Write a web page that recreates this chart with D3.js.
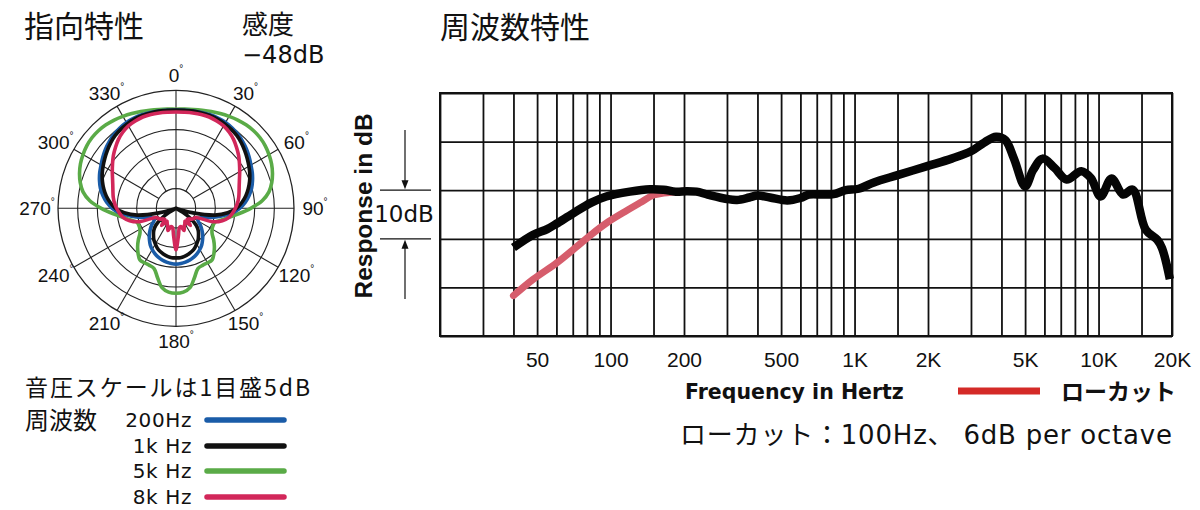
<!DOCTYPE html>
<html><head><meta charset="utf-8">
<script src="https://cdn.jsdelivr.net/npm/d3@7"></script>
<style>
body{margin:0;background:#fff;}
svg text{font-family:"Liberation Sans","Noto Sans CJK JP",sans-serif;fill:#111;}
svg text.jp{font-family:"Noto Sans CJK JP",sans-serif;}
svg text.dv{font-family:"DejaVu Sans","Noto Sans CJK JP",sans-serif;}
</style></head><body>
<svg id="c" width="1200" height="510"></svg>
<script>
// ---------- polar data (dB, 1 ring = 5 dB) ----------
const polarAngles = [0,5,10,15,20,25,30,35,40,45,50,55,60,65,70,75,80,85,90,95,100,105,110,115,120,125,130,135,140,145,150,155,160,165,170,175,180,
  185,190,195,200,205,210,215,220,225,230,235,240,245,250,255,260,265,270,275,280,285,290,295,300,305,310,315,320,325,330,335,340,345,350,355];
const polar200Hz = [0,0,0.1,0.2,0.3,0.3,0.2,-0.1,-0.5,-1.0,-1.6,-2.3,-3.0,-3.6,-4.3,-5.1,-6.1,-7.3,-8.8,-10.8,-13.5,-16,-18,-18.8,-18.5,-17.4,-16.4,-15.4,-14.5,-13.6,-12.9,-12.3,-11.8,-11.4,-11.1,-10.9,-10.8,
  -10.9,-11.1,-11.4,-11.8,-12.3,-12.9,-13.6,-14.5,-15.4,-16.4,-17.4,-18.5,-18.8,-18,-16,-13.5,-10.8,-8.8,-7.3,-6.1,-5.1,-4.3,-3.6,-3.0,-2.3,-1.6,-1.0,-0.5,-0.1,0.2,0.3,0.3,0.2,0.1,0];
const polar1kHz = [0,0,0.1,0.1,0.1,0,-0.2,-0.5,-0.9,-1.5,-2.2,-2.9,-3.6,-4.3,-5.1,-6.0,-7.0,-8.2,-9.6,-11.8,-15,-20.5,-24.5,-25,-23,-20.5,-18.3,-17,-16.1,-15.2,-14.5,-13.8,-13.3,-12.9,-12.6,-12.4,-12.4,
  -12.4,-12.6,-12.9,-13.3,-13.8,-14.5,-15.2,-16.1,-17,-18.3,-20.5,-23,-25,-24.5,-20.5,-15,-11.8,-9.6,-8.2,-7.0,-6.0,-5.1,-4.3,-3.6,-2.9,-2.2,-1.5,-0.9,-0.5,-0.2,0,0.1,0.1,0.1,0];
const polar5kHz = [0.2,0.3,0.5,0.8,1.2,1.6,2.0,2.4,2.7,2.9,2.9,2.7,2.3,1.8,1.1,0.2,-1.0,-3.0,-6.0,-9.0,-11.5,-13.2,-14.5,-14.6,-14.4,-13.8,-12.5,-11.2,-10.0,-9.0,-9.0,-9.0,-8.7,-6.8,-4.5,-3.6,-3.4,
  -3.6,-4.5,-6.8,-8.7,-9.0,-9.0,-9.0,-10.0,-11.2,-12.5,-13.8,-14.4,-14.6,-14.5,-13.2,-11.5,-9.0,-6.0,-3.0,-1.0,0.2,1.1,1.8,2.3,2.7,2.9,2.9,2.7,2.4,2.0,1.6,1.2,0.8,0.5,0.3];
const polar8kHz = [-0.5,-0.5,-0.4,-0.3,-0.3,-0.5,-0.8,-1.4,-2.2,-3.2,-4.2,-5.3,-6.3,-7.2,-7.9,-8.4,-8.8,-9.3,-9.9,-10.6,-11.4,-12.8,-15,-19.5,-19.8,-20.2,-20.8,-21,-19.3,-21,-20.5,-20,-19,-20.2,-20,-18,-14.4,
  -18,-20,-20.2,-19,-20,-20.5,-21,-19.3,-21,-20.8,-20.2,-19.8,-19.5,-15,-12.8,-11.4,-10.6,-9.9,-9.3,-8.8,-8.4,-7.9,-7.2,-6.3,-5.3,-4.2,-3.2,-2.2,-1.4,-0.8,-0.5,-0.3,-0.3,-0.4,-0.5];
const polarSeriesNames = ["5k Hz","200Hz","1k Hz","8k Hz"];
const polarRings = [-20,-15,-10,-5,0,5];
const polarSpokes = [0,30,60,90,120,150,180,210,240,270,300,330];

// ---------- frequency response data ----------
const respFreq = [40,48,55,60,70,83,96,120,145,165,185,205,225,250,300,330,370,400,450,530,600,650,750,820,920,1040,1200,1500,2000,2500,3000,3400,3800,4150,4500,5000,5400,5900,6600,7400,8500,9300,10200,11300,12600,13800,15600,17400,18200,19600];
const respDb   = [-11.8,-9.2,-8.0,-6.9,-4.8,-2.6,-1.3,-0.3,0.2,0.1,-0.3,-0.2,-0.3,-0.9,-1.8,-2.0,-1.5,-1.1,-1.5,-2.1,-1.6,-0.9,-0.9,-0.8,0.0,0.3,1.6,3.1,5.0,6.5,8.0,9.8,11.0,10.3,6.5,0.8,4.2,6.5,4.6,2.2,3.9,2.5,-1.3,2.4,-0.9,0.1,-8.1,-10.2,-11.9,-18.3];
const lowcutFreq = [40,48,60,70,83,96,112,132,150,165,200];
const lowcutDb   = [-21.7,-18.4,-15.0,-12.3,-9.2,-6.8,-4.7,-2.6,-1.0,-0.6,-0.2];
const freqGrid = [20,30,40,50,60,70,80,90,100,150,200,300,400,500,600,700,800,900,1000,1500,2000,3000,4000,5000,6000,7000,8000,9000,10000,15000,20000];
const freqTickValues = [50,100,200,500,1000,2000,5000,10000,20000];
const freqTickLabels = ["50","100","200","500","1K","2K","5K","10K","20K"];
const dbGrid = [-30,-20,-10,0,10,20];

const svg = d3.select("#c");

// ---------- titles ----------
svg.append("text").attr("class","jp").attr("x",24).attr("y",37).attr("font-size",30).text("指向特性");
svg.append("text").attr("class","jp").attr("x",242).attr("y",34).attr("font-size",26).text("感度");
svg.append("text").attr("class","dv").attr("x",242).attr("y",63).attr("font-size",24).text("−48dB");
svg.append("text").attr("class","jp").attr("x",440).attr("y",38).attr("font-size",30).text("周波数特性");

// ---------- polar chart ----------
const cx = 176, cy = 208.3;
const r = d3.scaleLinear().domain([-25,5]).range([0,118]).clamp(true);
const pg = svg.append("g").attr("transform",`translate(${cx},${cy})`);
pg.selectAll("circle.ring").data(polarRings).join("circle")
  .attr("r",d=>r(d)).attr("fill","none").attr("stroke","#222").attr("stroke-width",d=>d===5?1.3:1.1);
pg.selectAll("line.spoke").data(polarSpokes).join("line")
  .attr("x1",d=>(d%90===0?0:r(-20))*Math.sin(d*Math.PI/180))
  .attr("y1",d=>-(d%90===0?0:r(-20))*Math.cos(d*Math.PI/180))
  .attr("x2",d=>r(5)*Math.sin(d*Math.PI/180))
  .attr("y2",d=>-r(5)*Math.cos(d*Math.PI/180))
  .attr("stroke","#222").attr("stroke-width",1.1);
const lbl = pg.selectAll("text.deg").data(polarSpokes).join("text")
  .attr("x",d=>139*Math.sin(d*Math.PI/180))
  .attr("y",d=>-133*Math.cos(d*Math.PI/180))
  .attr("text-anchor","middle").attr("dominant-baseline","central").attr("font-size",19);
lbl.append("tspan").text(d=>String(d));
lbl.append("tspan").attr("font-size",10).attr("dy",-7).text("°");

const polarColors = {"200Hz":"#1a5ca8","1k Hz":"#111111","5k Hz":"#5aab47","8k Hz":"#d2275a"};
const polarData = {"200Hz":polar200Hz,"1k Hz":polar1kHz,"5k Hz":polar5kHz,"8k Hz":polar8kHz};
const radial = d3.lineRadial().angle(d=>d[0]*Math.PI/180).radius(d=>r(d[1])).curve(d3.curveCatmullRomClosed.alpha(0.5));
polarSeriesNames.forEach(name=>{
  const pts = polarAngles.map((a,i)=>[a,polarData[name][i]]);
  pg.append("path").attr("d",radial(pts)).attr("fill","none")
    .attr("stroke",polarColors[name]).attr("stroke-width",3.6).attr("stroke-linejoin","round");
});

// polar legend
svg.append("text").attr("class","jp").attr("x",25).attr("y",396).attr("font-size",23)
  .attr("textLength",285).attr("lengthAdjust","spacing").text("音圧スケールは1目盛5dB");
svg.append("text").attr("class","jp").attr("x",25).attr("y",429).attr("font-size",24).text("周波数");
const legendNames = ["200Hz","1k Hz","5k Hz","8k Hz"];
const legendY = [420,446,471,497];
legendNames.forEach((n,i)=>{
  svg.append("text").attr("class","dv").attr("x",192).attr("y",legendY[i]+7).attr("text-anchor","end")
    .attr("font-size",20).attr("letter-spacing",0.6).text(n);
  svg.append("line").attr("x1",207).attr("x2",284).attr("y1",legendY[i]).attr("y2",legendY[i])
    .attr("stroke",polarColors[n]).attr("stroke-width",5.5).attr("stroke-linecap","round");
});

// ---------- frequency response ----------
const x = d3.scaleLog().domain([20,20000]).range([440,1172]);
const y = d3.scaleLinear().domain([-30,20]).range([336,93]);
const fg = svg.append("g");
fg.append("g").attr("transform","translate(0,336)")
  .call(d3.axisBottom(x).tickValues(freqGrid).tickSize(-(336-93)).tickFormat(""))
  .call(g=>{g.select(".domain").remove();g.selectAll(".tick line").attr("stroke","#111").attr("stroke-width",1.8);});
fg.append("g").attr("transform","translate(440,0)")
  .call(d3.axisLeft(y).tickValues(dbGrid).tickSize(-(1172-440)).tickFormat(""))
  .call(g=>{g.select(".domain").remove();g.selectAll(".tick line").attr("stroke","#111").attr("stroke-width",1.8);});
fg.append("rect").attr("x",440).attr("y",93).attr("width",732).attr("height",243)
  .attr("fill","none").attr("stroke","#111").attr("stroke-width",2);
fg.append("g").attr("transform","translate(0,336)")
  .call(d3.axisBottom(x).tickValues(freqTickValues).tickFormat((d,i)=>freqTickLabels[i]).tickSize(0).tickPadding(16))
  .call(g=>{g.select(".domain").remove();g.selectAll("text").attr("font-size",21).attr("fill","#111")
    .attr("font-family","Liberation Sans, sans-serif");});

const line = d3.line().x(d=>x(d[0])).y(d=>y(d[1])).curve(d3.curveCatmullRom.alpha(0.5));
fg.append("path").attr("d",line(lowcutFreq.map((f,i)=>[f,lowcutDb[i]])))
  .attr("fill","none").attr("stroke","#d65d6c").attr("stroke-width",7).attr("stroke-linecap","round").attr("stroke-linejoin","round");
fg.append("path").attr("d",line(respFreq.map((f,i)=>[f,respDb[i]])))
  .attr("fill","none").attr("stroke","#050505").attr("stroke-width",8.5).attr("stroke-linecap","butt").attr("stroke-linejoin","round");

// y annotation
svg.append("text").attr("transform","translate(372,206) rotate(-90)").attr("text-anchor","middle")
  .attr("font-size",24.5).attr("font-weight","bold").text("Response in dB");
const ann = svg.append("g").attr("stroke","#111").attr("stroke-width",1.2);
ann.append("line").attr("x1",380).attr("x2",431).attr("y1",y(0)).attr("y2",y(0));
ann.append("line").attr("x1",380).attr("x2",431).attr("y1",y(-10)).attr("y2",y(-10));
ann.append("line").attr("x1",405).attr("x2",405).attr("y1",130).attr("y2",y(0)-8);
ann.append("line").attr("x1",405).attr("x2",405).attr("y1",299).attr("y2",y(-10)+8);
svg.append("path").attr("d",`M401.5,${y(0)-10}L408.5,${y(0)-10}L405,${y(0)-1}Z`).attr("fill","#111");
svg.append("path").attr("d",`M401.5,${y(-10)+10}L408.5,${y(-10)+10}L405,${y(-10)+1}Z`).attr("fill","#111");
svg.append("text").attr("class","dv").attr("x",404).attr("y",222).attr("text-anchor","middle").attr("font-size",23).text("10dB");

// x label & legend
svg.append("text").attr("class","dv").attr("x",685).attr("y",399).attr("font-size",20.5).attr("font-weight","bold").text("Frequency in Hertz");
svg.append("line").attr("x1",958).attr("x2",1040).attr("y1",391).attr("y2",391).attr("stroke","#d42a27").attr("stroke-width",7);
svg.append("text").attr("class","jp").attr("x",1061).attr("y",400).attr("font-size",23).attr("font-weight","bold").text("ローカット");
svg.append("text").attr("class","dv").attr("x",680).attr("y",444).attr("font-size",26)
  .attr("textLength",492).attr("lengthAdjust","spacing").text("ローカット：100Hz、 6dB per octave");
</script>
</body></html>
